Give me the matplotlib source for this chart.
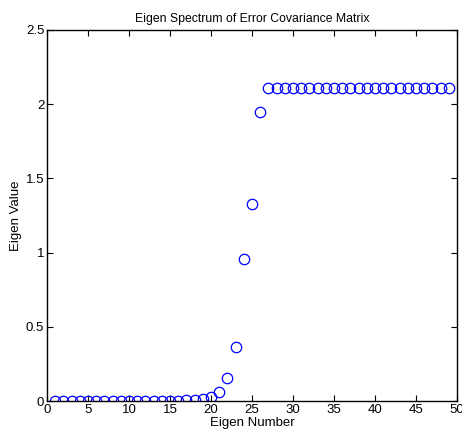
import matplotlib
matplotlib.use("Agg")
import matplotlib.pyplot as plt

plt.rcParams['font.family'] = ['Liberation Sans', 'DejaVu Sans']

eigen_number = list(range(1, 50))
eigen_value = [0.0, 0.0, 0.0, 0.0, 0.0, 0.0, 0.0, 0.0, 0.0, 0.0,
               0.0, 0.0, 0.0, 0.0, 0.001, 0.002, 0.006, 0.01, 0.016, 0.03,
               0.06, 0.155, 0.365, 0.957, 1.327, 1.947] + [2.108] * 23
title = "Eigen Spectrum of Error Covariance Matrix"

fig = plt.figure(figsize=(4.62, 4.43), dpi=100)
ax = fig.add_axes([47/462, 42/443, 410/462, 371/443])
ax.plot(eigen_number, eigen_value, 'o', markerfacecolor='none',
        markeredgecolor='blue', markersize=7.5, markeredgewidth=0.9)
ax.set_xlim(0, 50)
ax.set_ylim(0, 2.5)
ax.set_xticks(range(0, 51, 5))
ax.set_yticks([0, 0.5, 1, 1.5, 2, 2.5])
ax.set_yticklabels(['0', '0.5', '1', '1.5', '2', '2.5'])
ax.tick_params(direction='in', length=4, labelsize=9.5, top=True, right=True,
               labeltop=False, labelright=False, pad=2)
for s in ax.spines.values():
    s.set_linewidth(1.0)
ax.set_title(title, fontsize=8.8, pad=6)
ax.set_xlabel("Eigen Number", fontsize=9.5, labelpad=1)
ax.set_ylabel("Eigen Value", fontsize=9.5, labelpad=3)
fig.savefig("out.png", dpi=100)
